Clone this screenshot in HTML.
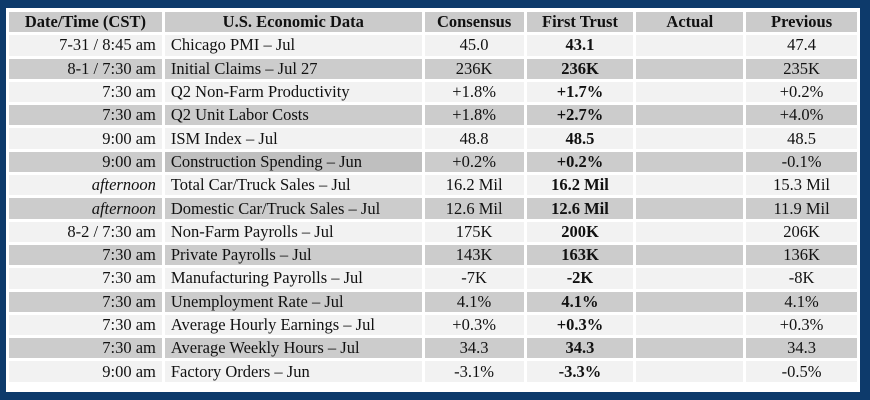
<!DOCTYPE html>
<html><head><style>
body{margin:0;width:870px;height:400px;background:#0d3a6b;position:relative;overflow:hidden}
.w{position:absolute;left:6px;top:8px;width:854px;height:384px;background:#fff}
table{position:absolute;left:0px;top:1px;border-collapse:separate;border-spacing:3px;font-family:"Liberation Serif",serif;font-size:16.5px;color:#111}
td{height:20.3px;padding:0;white-space:nowrap;line-height:20px}
tr.h td{background:#cbcbcb;font-weight:bold;text-align:center}
tr.a td{background:#f2f2f2}
tr.b td{background:#cccccc}
td.d{text-align:right;padding-right:6px}
td.e{text-align:left;padding-left:6px}
td.c{text-align:center}
td.f{text-align:center;font-weight:bold}
</style></head><body><div class="w"><table>
<colgroup><col style="width:153px"><col style="width:257px"><col style="width:99px"><col style="width:107px"><col style="width:107px"><col style="width:111px"></colgroup>
<tr class="h"><td>Date/Time (CST)</td><td>U.S. Economic Data</td><td>Consensus</td><td>First Trust</td><td>Actual</td><td>Previous</td></tr>
<tr class="a"><td class="d">7-31 / 8:45 am</td><td class="e">Chicago PMI – Jul</td><td class="c">45.0</td><td class="f">43.1</td><td></td><td class="c">47.4</td></tr>
<tr class="b"><td class="d">8-1 / 7:30 am</td><td class="e">Initial Claims – Jul 27</td><td class="c">236K</td><td class="f">236K</td><td></td><td class="c">235K</td></tr>
<tr class="a"><td class="d">7:30 am</td><td class="e">Q2 Non-Farm Productivity</td><td class="c">+1.8%</td><td class="f">+1.7%</td><td></td><td class="c">+0.2%</td></tr>
<tr class="b"><td class="d">7:30 am</td><td class="e">Q2 Unit Labor Costs</td><td class="c">+1.8%</td><td class="f">+2.7%</td><td></td><td class="c">+4.0%</td></tr>
<tr class="a"><td class="d">9:00 am</td><td class="e">ISM Index – Jul</td><td class="c">48.8</td><td class="f">48.5</td><td></td><td class="c">48.5</td></tr>
<tr class="b"><td class="d">9:00 am</td><td class="e" style="background:#bfbfbf">Construction Spending – Jun</td><td class="c">+0.2%</td><td class="f">+0.2%</td><td></td><td class="c">-0.1%</td></tr>
<tr class="a"><td class="d"><i>afternoon</i></td><td class="e">Total Car/Truck Sales – Jul</td><td class="c">16.2 Mil</td><td class="f">16.2 Mil</td><td></td><td class="c">15.3 Mil</td></tr>
<tr class="b"><td class="d"><i>afternoon</i></td><td class="e">Domestic Car/Truck Sales – Jul</td><td class="c">12.6 Mil</td><td class="f">12.6 Mil</td><td></td><td class="c">11.9 Mil</td></tr>
<tr class="a"><td class="d">8-2 / 7:30 am</td><td class="e">Non-Farm Payrolls – Jul</td><td class="c">175K</td><td class="f">200K</td><td></td><td class="c">206K</td></tr>
<tr class="b"><td class="d">7:30 am</td><td class="e">Private Payrolls – Jul</td><td class="c">143K</td><td class="f">163K</td><td></td><td class="c">136K</td></tr>
<tr class="a"><td class="d">7:30 am</td><td class="e">Manufacturing Payrolls – Jul</td><td class="c">-7K</td><td class="f">-2K</td><td></td><td class="c">-8K</td></tr>
<tr class="b"><td class="d">7:30 am</td><td class="e">Unemployment Rate – Jul</td><td class="c">4.1%</td><td class="f">4.1%</td><td></td><td class="c">4.1%</td></tr>
<tr class="a"><td class="d">7:30 am</td><td class="e">Average Hourly Earnings – Jul</td><td class="c">+0.3%</td><td class="f">+0.3%</td><td></td><td class="c">+0.3%</td></tr>
<tr class="b"><td class="d">7:30 am</td><td class="e">Average Weekly Hours – Jul</td><td class="c">34.3</td><td class="f">34.3</td><td></td><td class="c">34.3</td></tr>
<tr class="a"><td class="d">9:00 am</td><td class="e">Factory Orders – Jun</td><td class="c">-3.1%</td><td class="f">-3.3%</td><td></td><td class="c">-0.5%</td></tr>
</table></div></body></html>
